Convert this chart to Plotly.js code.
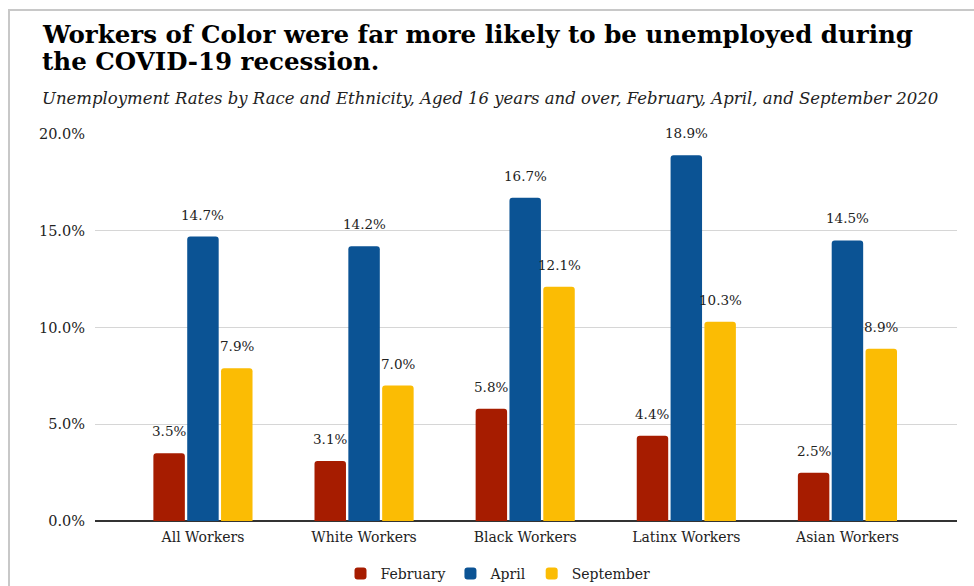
<!DOCTYPE html>
<html>
<head>
<meta charset="utf-8">
<script src="https://cdn.plot.ly/plotly-3.0.1.min.js"></script>
<style>
  html, body { margin: 0; padding: 0; background: #fff; }
  #wrap { position: relative; width: 974px; height: 586px; overflow: hidden; }
  #chart { position: absolute; left: 0; top: 0; width: 974px; height: 586px; }
  #frame { position: absolute; left: 8px; top: 9px; width: 980px; height: 600px;
           border-left: 2px solid #c8c8c8; border-top: 2px solid #c8c8c8; pointer-events: none; }
</style>
</head>
<body>
<div id="wrap">
  <div id="chart"></div>
  <div id="frame"></div>
</div>
<script>
// ---- data ----
const categories = ["All Workers", "White Workers", "Black Workers", "Latinx Workers", "Asian Workers"];
const seriesNames = ["February", "April", "September"];
const february = [3.5, 3.1, 5.8, 4.4, 2.5];
const april = [14.7, 14.2, 16.7, 18.9, 14.5];
const september = [7.9, 7.0, 12.1, 10.3, 8.9];
const yTicks = [0, 5, 10, 15, 20];

const colors = ["#a61c00", "#0b5394", "#fbbc04"];
const serif = "DejaVu Serif, Georgia, serif";
const textColor = "#222222";

const W = 974, H = 586;
const margin = { l: 95, r: 17, t: 134, b: 65, pad: 0, autoexpand: false };
const plotW = W - margin.l - margin.r;
const plotH = H - margin.t - margin.b;
const px2x = px => (px - margin.l) / plotW;
const px2y = py => (H - margin.b - py) / plotH;

const bargap = 0.37;
const slot = (1 - bargap) / 3;

const allSeries = [february, april, september];
const traces = allSeries.map((vals, s) => ({
  type: "bar",
  name: seriesNames[s],
  x: categories,
  y: vals,
  marker: { color: colors[s], cornerradius: 3 },
  hoverinfo: "none"
}));

const annotations = [];
allSeries.forEach((vals, s) => {
  vals.forEach((v, i) => {
    annotations.push({
      xref: "x", yref: "y",
      x: i + (s - 1) * slot, y: v,
      text: v.toFixed(1) + "%",
      showarrow: false,
      yanchor: "bottom", xanchor: "center",
      yshift: 12,
      font: { family: serif, size: 13.5, color: textColor }
    });
  });
});

annotations.push({
  xref: "paper", yref: "paper",
  x: px2x(40), y: px2y(34.5), xanchor: "left", yanchor: "middle",
  text: "<b>Workers of Color were far more likely to be unemployed during</b>",
  showarrow: false,
  font: { family: serif, size: 24.5, color: "#000" }
});
annotations.push({
  xref: "paper", yref: "paper",
  x: px2x(40), y: px2y(61), xanchor: "left", yanchor: "middle",
  text: "<b>the COVID-19 recession.</b>",
  showarrow: false,
  font: { family: serif, size: 24.5, color: "#000" }
});
annotations.push({
  xref: "paper", yref: "paper",
  x: px2x(40), y: px2y(98), xanchor: "left", yanchor: "middle",
  text: "<i>Unemployment Rates by Race and Ethnicity, Aged 16 years and over, February, April, and September 2020</i>",
  showarrow: false,
  font: { family: serif, size: 16.5, color: textColor }
});

const layout = {
  width: W, height: H,
  margin: margin,
  paper_bgcolor: "#ffffff",
  plot_bgcolor: "#ffffff",
  barmode: "group",
  bargap: bargap,
  bargroupgap: 0.07,
  showlegend: true,
  legend: {
    orientation: "h",
    x: px2x(498), xanchor: "center",
    y: px2y(574), yanchor: "middle",
    font: { family: serif, size: 14, color: textColor },
    itemclick: false
  },
  xaxis: {
    type: "category",
    range: [-0.67, 4.68],
    showgrid: false,
    showline: false,
    ticks: "",
    ticklabelstandoff: 6,
    tickfont: { family: serif, size: 14, color: textColor },
    fixedrange: true
  },
  yaxis: {
    range: [0, 20],
    tickvals: yTicks,
    ticktext: yTicks.map(t => t.toFixed(1) + "%"),
    showgrid: true,
    gridcolor: "#d6d6d6",
    gridwidth: 1,
    zeroline: true,
    zerolinecolor: "#333333",
    zerolinewidth: 1.5,
    showline: false,
    ticks: "",
    ticklabelstandoff: 9,
    tickfont: { family: serif, size: 14.5, color: textColor },
    fixedrange: true
  },
  annotations: annotations
};

Plotly.newPlot("chart", traces, layout, { displayModeBar: false, staticPlot: true });
</script>
</body>
</html>
